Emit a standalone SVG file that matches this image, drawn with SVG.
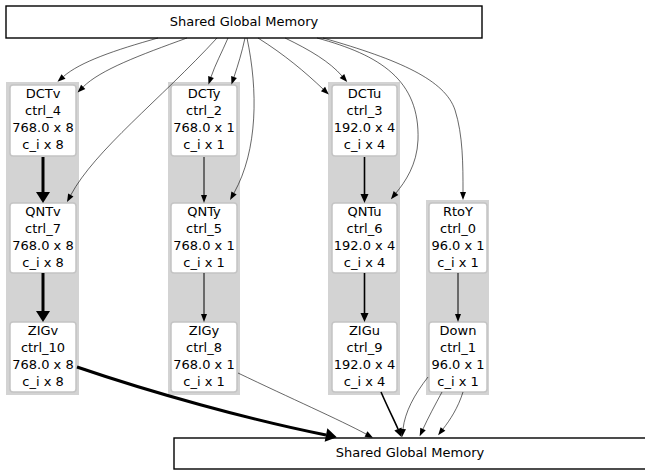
<svg xmlns="http://www.w3.org/2000/svg" width="645" height="473" viewBox="0 0 645 473">
<style>
text{font-family:"DejaVu Sans","Liberation Sans",sans-serif;font-size:13px;fill:#000;text-anchor:middle}
.mem{fill:#fff;stroke:#000;stroke-width:1.4}
.cl{fill:#d3d3d3;stroke:none}
.nd{fill:#fff;stroke:#c4c4c4;stroke-width:1.5}
.e{fill:none;stroke:#000}
.t0{stroke-width:0.6}
.t1{stroke-width:1}
.t2{stroke-width:1.6}
.t3{stroke-width:3}
</style>
<defs>
<marker id="as" markerUnits="userSpaceOnUse" markerWidth="10" markerHeight="10" refX="0" refY="0" orient="auto" overflow="visible"><path d="M0,-3 L8,0 L0,3 z" fill="#000"/></marker>
<marker id="am" markerUnits="userSpaceOnUse" markerWidth="10" markerHeight="10" refX="0" refY="0" orient="auto" overflow="visible"><path d="M0,-4 L9,0 L0,4 z" fill="#000"/></marker>
<marker id="al" markerUnits="userSpaceOnUse" markerWidth="14" markerHeight="16" refX="0" refY="0" orient="auto" overflow="visible"><path d="M0,-7 L11,0 L0,7 z" fill="#000"/></marker>
</defs>
<rect width="645" height="473" fill="#fff"/>

<g id="mem_top"><rect class="mem" x="6" y="6" width="476" height="32"/><text x="244" y="26">Shared Global Memory</text></g>
<g id="mem_bottom"><rect class="mem" x="174" y="438" width="480" height="31"/><text x="410" y="457">Shared Global Memory</text></g>

<g id="clusters">
<rect class="cl" x="6" y="82" width="73" height="313"/>
<rect class="cl" x="168" y="82" width="72" height="313"/>
<rect class="cl" x="328" y="82" width="72" height="313"/>
<rect class="cl" x="426" y="200" width="63" height="195"/>
</g>

<g id="DCTv"><rect class="nd" x="10" y="85" width="66" height="71" rx="3"/><text x="43" y="98">DCTv</text><text x="43" y="115">ctrl_4</text><text x="43" y="132">768.0 x 8</text><text x="43" y="149">c_i x 8</text></g>
<g id="QNTv"><rect class="nd" x="10" y="203" width="66" height="70" rx="3"/><text x="43" y="216">QNTv</text><text x="43" y="233">ctrl_7</text><text x="43" y="250">768.0 x 8</text><text x="43" y="267">c_i x 8</text></g>
<g id="ZIGv"><rect class="nd" x="10" y="322" width="66" height="70" rx="3"/><text x="43" y="335">ZIGv</text><text x="43" y="352">ctrl_10</text><text x="43" y="369">768.0 x 8</text><text x="43" y="386">c_i x 8</text></g>

<g id="DCTy"><rect class="nd" x="171" y="85" width="66" height="71" rx="3"/><text x="204" y="98">DCTy</text><text x="204" y="115">ctrl_2</text><text x="204" y="132">768.0 x 1</text><text x="204" y="149">c_i x 1</text></g>
<g id="QNTy"><rect class="nd" x="171" y="203" width="66" height="70" rx="3"/><text x="204" y="216">QNTy</text><text x="204" y="233">ctrl_5</text><text x="204" y="250">768.0 x 1</text><text x="204" y="267">c_i x 1</text></g>
<g id="ZIGy"><rect class="nd" x="171" y="322" width="66" height="70" rx="3"/><text x="204" y="335">ZIGy</text><text x="204" y="352">ctrl_8</text><text x="204" y="369">768.0 x 1</text><text x="204" y="386">c_i x 1</text></g>

<g id="DCTu"><rect class="nd" x="332" y="85" width="65" height="71" rx="3"/><text x="364.5" y="98">DCTu</text><text x="364.5" y="115">ctrl_3</text><text x="364.5" y="132">192.0 x 4</text><text x="364.5" y="149">c_i x 4</text></g>
<g id="QNTu"><rect class="nd" x="332" y="203" width="65" height="70" rx="3"/><text x="364.5" y="216">QNTu</text><text x="364.5" y="233">ctrl_6</text><text x="364.5" y="250">192.0 x 4</text><text x="364.5" y="267">c_i x 4</text></g>
<g id="ZIGu"><rect class="nd" x="332" y="322" width="65" height="70" rx="3"/><text x="364.5" y="335">ZIGu</text><text x="364.5" y="352">ctrl_9</text><text x="364.5" y="369">192.0 x 4</text><text x="364.5" y="386">c_i x 4</text></g>

<g id="RtoY"><rect class="nd" x="429" y="203" width="58" height="70" rx="3"/><text x="458" y="216">RtoY</text><text x="458" y="233">ctrl_0</text><text x="458" y="250">96.0 x 1</text><text x="458" y="267">c_i x 1</text></g>
<g id="Down"><rect class="nd" x="429" y="322" width="58" height="70" rx="3"/><text x="458" y="335">Down</text><text x="458" y="352">ctrl_1</text><text x="458" y="369">96.0 x 1</text><text x="458" y="386">c_i x 1</text></g>

<g id="connectors">
<path class="e t0" marker-end="url(#as)" d="M158,38 C115,50 80,62 63.5,76.5"/>
<path class="e t0" marker-end="url(#as)" d="M187,38 C140,55 100,70 83.2,86.9"/>
<path class="e t0" marker-end="url(#as)" d="M217,38 C160,100 95,150 70.8,195"/>
<path class="e t0" marker-end="url(#as)" d="M228,38 C222,52 215,65 211,77"/>
<path class="e t0" marker-end="url(#as)" d="M245,38 C242,52 238,65 234,77"/>
<path class="e t0" marker-end="url(#as)" d="M247,38 C258,90 258,150 234,193"/>
<path class="e t0" marker-end="url(#as)" d="M258,38 C285,55 305,72 323,89"/>
<path class="e t0" marker-end="url(#as)" d="M285,38 C310,50 330,62 342,76"/>
<path class="e t0" marker-end="url(#as)" d="M317,38 C380,55 420,80 418,140 C417,165 405,182 396,193"/>
<path class="e t0" marker-end="url(#as)" d="M323,38 C400,60 445,80 455,110 C463,135 463,165 463,192"/>

<path class="e t3" marker-end="url(#al)" d="M43,157 L43,192"/>
<path class="e t3" marker-end="url(#al)" d="M43,273 L43,311"/>
<path class="e t1" marker-end="url(#as)" d="M204,157 L204,195"/>
<path class="e t1" marker-end="url(#as)" d="M204,273 L204,314"/>
<path class="e t2" marker-end="url(#am)" d="M364.5,157 L364.5,194"/>
<path class="e t2" marker-end="url(#am)" d="M364.5,273 L364.5,313"/>
<path class="e t1" marker-end="url(#as)" d="M458,273 L458,314"/>

<path class="e t3" marker-end="url(#al)" d="M77,367 C150,392 250,420 326,435"/>
<path class="e t0" marker-end="url(#as)" d="M238,373 C290,398 340,420 366,434"/>
<path class="e t2" marker-end="url(#am)" d="M381,392 C388,408 394,420 398,429"/>
<path class="e t0" marker-end="url(#as)" d="M428,377 C414,395 405,412 403,429"/>
<path class="e t0" marker-end="url(#as)" d="M442,392 C435,405 428,418 423,429"/>
<path class="e t0" marker-end="url(#as)" d="M463,392 C458,408 450,420 443,429"/>
</g>
</svg>
